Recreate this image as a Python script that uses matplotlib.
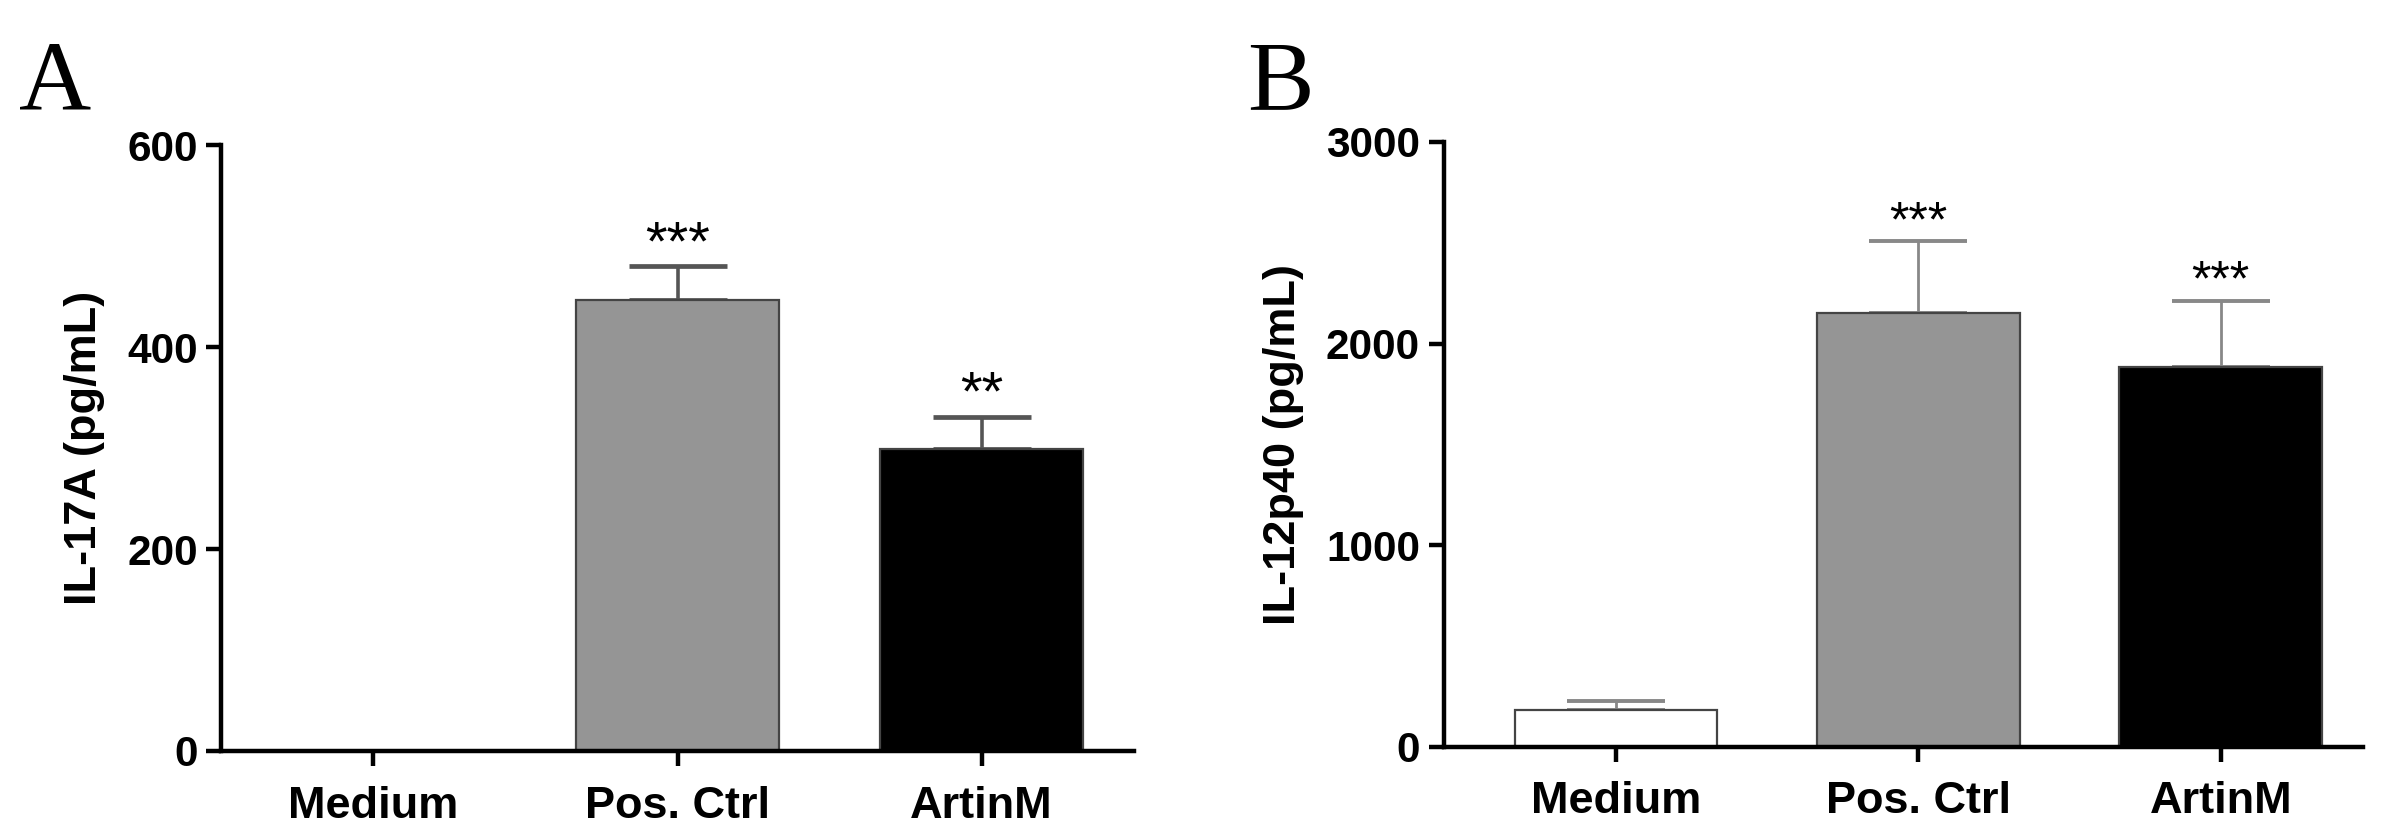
import numpy as np
import matplotlib
matplotlib.use("Agg")
import matplotlib.pyplot as plt

groups = ["Medium", "Pos. Ctrl", "ArtinM"]
bar_colors = ["white", "#959595", "black"]

il17_mean = [0, 447, 299]
il17_err = [0, 33, 32]
il17_stars = ["", "***", "**"]

il12_mean = [182, 2152, 1886]
il12_err = [45, 356, 326]
il12_stars = ["", "***", "***"]

plt.rcParams["font.family"] = ["Liberation Sans", "DejaVu Sans"]


def panel(ax, means, errs, stars, ylabel, ymax, step, err_color, err_lw, star_size, xlim):
    x = np.arange(len(groups))
    ax.bar(x, means, width=0.67, color=bar_colors, edgecolor="#444444",
           linewidth=1.6, zorder=2)
    ax.errorbar(x, means, yerr=[np.zeros(len(errs)), errs], fmt="none",
                ecolor=err_color, elinewidth=err_lw, capsize=35,
                capthick=err_lw + 0.8, zorder=1)
    for xi, m, e, s in zip(x, means, errs, stars):
        if s:
            ax.text(xi, m + e - ymax * 0.008, s, ha="center", va="bottom",
                    fontsize=star_size)
    ax.set_xlim(*xlim)
    ax.set_ylim(0, ymax)
    ax.set_yticks(np.arange(0, ymax + 1, step))
    ax.set_xticks(x)
    ax.set_xticklabels(groups, fontsize=32.5, fontweight="bold")
    ax.set_ylabel(ylabel, fontsize=32.5, fontweight="bold", labelpad=16)
    for lab in ax.get_yticklabels():
        lab.set_fontsize(30.5)
        lab.set_fontweight("bold")
    ax.spines["top"].set_visible(False)
    ax.spines["right"].set_visible(False)
    ax.spines["left"].set_linewidth(3.2)
    ax.spines["bottom"].set_linewidth(3.2)
    ax.tick_params(axis="both", direction="out", length=11, width=3.2, pad=6)
    ax.tick_params(axis="x", pad=14)


fig = plt.figure(figsize=(23.94, 8.4), dpi=100)
ax1 = fig.add_axes([0.0925, 0.106, 0.381, 0.721])
ax2 = fig.add_axes([0.603, 0.111, 0.384, 0.720])

panel(ax1, il17_mean, il17_err, il17_stars, "IL-17A (pg/mL)", 600, 200,
      "#555555", 2.6, 40, (-0.5, 2.5))
panel(ax2, il12_mean, il12_err, il12_stars, "IL-12p40 (pg/mL)", 3000, 1000,
      "#888888", 2.0, 36, (-0.57, 2.47))

fig.text(0.008, 0.87, "A", fontsize=72, family="Liberation Serif")
fig.text(0.521, 0.87, "B", fontsize=72, family="Liberation Serif")

fig.savefig("out.png", dpi=100)
plt.close(fig)
